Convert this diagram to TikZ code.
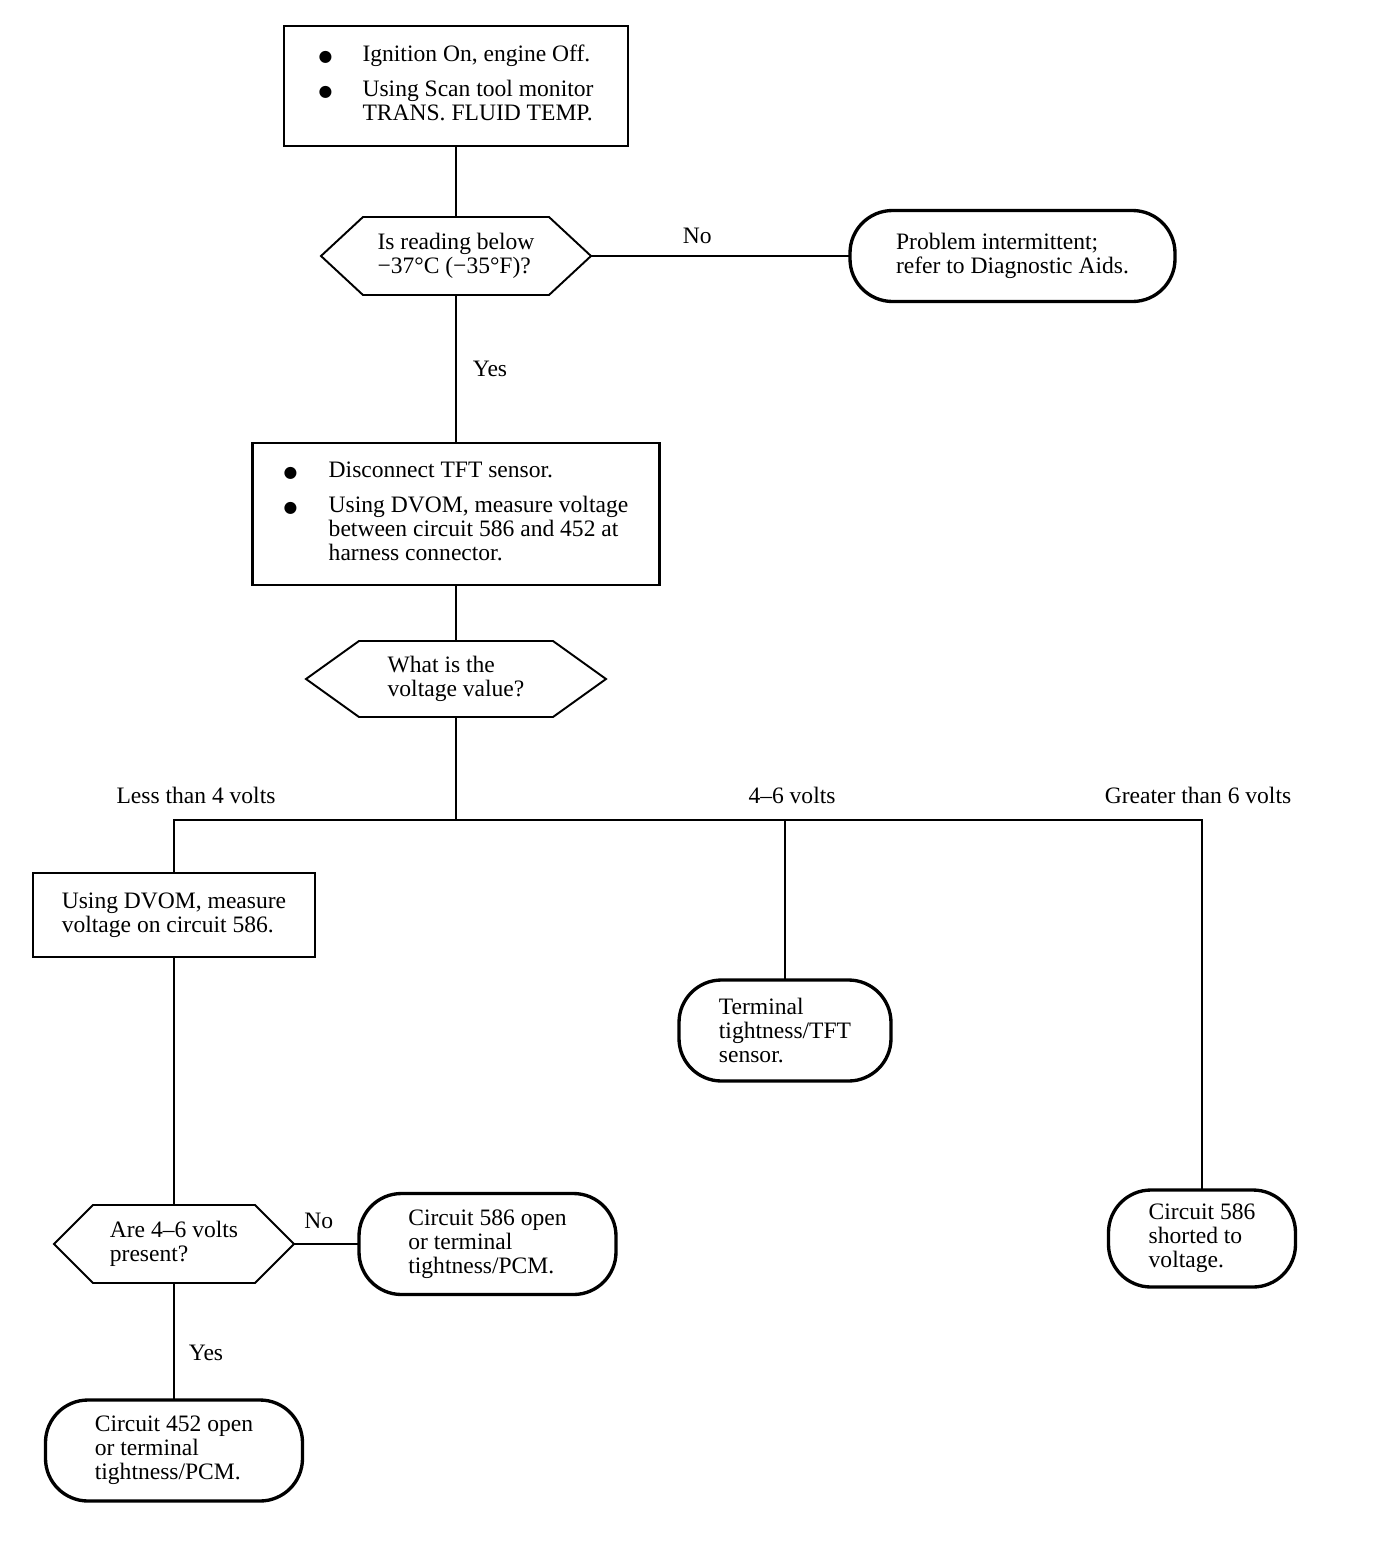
\documentclass[tikz,border=0pt]{standalone}
\usepackage{fontspec}
\setmainfont{Liberation Serif}
\newfontfamily\dejavu{DejaVu Sans}
\usetikzlibrary{positioning}

\newcommand{\hexframe}[2]{%
  \draw[hexline] (#1.west) -- ([xshift=#2]#1.north west) -- ([xshift=-#2]#1.north east)
    -- (#1.east) -- ([xshift=-#2]#1.south east) -- ([xshift=#2]#1.south west) -- cycle;}
\newcommand{\bul}{{\dejavu\fontsize{9}{9}\selectfont ●}}

\begin{document}
\begin{tikzpicture}[
  every node/.style={font=\fontsize{13.4}{13.7}\selectfont, outer sep=0pt},
  process/.style={draw, rectangle, line width=1.6pt, align=left, inner sep=0pt},
  decision/.style={rectangle, align=left, inner sep=0pt},
  terminal/.style={draw, rectangle, rounded corners=0.85cm, line width=1.9pt, align=left, inner sep=0pt},
  hexline/.style={line width=1.1pt},
  conn/.style={line width=0.9pt}
]
\useasboundingbox (0,0) rectangle (27.52,-30.88);

% Nodes
\node[process, minimum width=6.88cm, minimum height=2.4cm] (start) at (9.12,-1.72) {%
  \begin{tabular}{@{}p{0.88cm}@{}l@{}}
    \bul & Ignition On, engine Off.\\[0.22cm]
    \bul & Using Scan tool monitor\\
         & TRANS. FLUID TEMP.
  \end{tabular}};
\node[decision, minimum width=5.4cm, minimum height=1.56cm, below=1.42cm of start] (reading) {Is reading below\\−37°C (−35°F)?};
\node[terminal, minimum width=6.5cm, minimum height=1.82cm, right=5.18cm of reading] (intermit) {Problem intermittent;\\refer to Diagnostic Aids.};
\node[process, minimum width=8.14cm, minimum height=2.84cm, below=2.96cm of reading] (disconnect) {%
  \begin{tabular}{@{}p{0.9cm}@{}l@{}}
    \bul & Disconnect TFT sensor.\\[0.22cm]
    \bul & Using DVOM, measure voltage\\
         & between circuit 586 and 452 at\\
         & harness connector.
  \end{tabular}};
\node[decision, minimum width=6cm, minimum height=1.52cm, below=1.12cm of disconnect] (value) {What is the\\voltage value?};
\coordinate[below=2.06cm of value] (split);
\node[process, minimum width=5.64cm, minimum height=1.68cm, below=1.06cm of split, xshift=-5.64cm] (measure) {Using DVOM, measure\\voltage on circuit 586.};
\node[terminal, minimum width=4.24cm, minimum height=2.02cm, below=3.2cm of split, xshift=6.58cm] (tight) {Terminal\\tightness/TFT\\sensor.};
\node[terminal, minimum width=3.74cm, minimum height=1.94cm, below=7.4cm of split, xshift=14.92cm] (shorted) {Circuit 586\\shorted to\\voltage.};
\node[decision, minimum width=4.8cm, minimum height=1.56cm, below=4.96cm of measure] (present) {Are 4–6 volts\\present?};
\node[terminal, minimum width=5.14cm, minimum height=2.02cm, right=1.3cm of present] (open586) {Circuit 586 open\\or terminal\\tightness/PCM.};
\node[terminal, minimum width=5.14cm, minimum height=2.02cm, below=2.34cm of present] (open452) {Circuit 452 open\\or terminal\\tightness/PCM.};

% Hexagon outlines
\hexframe{reading}{0.84cm}
\hexframe{value}{1.06cm}
\hexframe{present}{0.78cm}

% Arrows
\draw[conn] (start) -- (reading);
\draw[conn] (reading) -- node[pos=0.41, yshift=0.4cm] {No} (intermit);
\draw[conn] (reading) -- node[xshift=0.68cm] {Yes} (disconnect);
\draw[conn] (disconnect) -- (value);
\draw[conn] (value) -- (split);
\draw[conn] (split) -| node[pos=0.5, xshift=0.44cm, yshift=0.5cm] {Less than 4 volts} (measure);
\draw[conn] (split) -| node[pos=0.5, xshift=0.14cm, yshift=0.5cm] {4–6 volts} (tight);
\draw[conn] (split) -| node[pos=0.5, xshift=-0.08cm, yshift=0.5cm] {Greater than 6 volts} (shorted);
\draw[conn] (measure) -- (present);
\draw[conn] (present) -- node[pos=0.38, yshift=0.46cm] {No} (open586);
\draw[conn] (present) -- node[pos=0.6, xshift=0.64cm] {Yes} (open452);

\end{tikzpicture}
\end{document}
